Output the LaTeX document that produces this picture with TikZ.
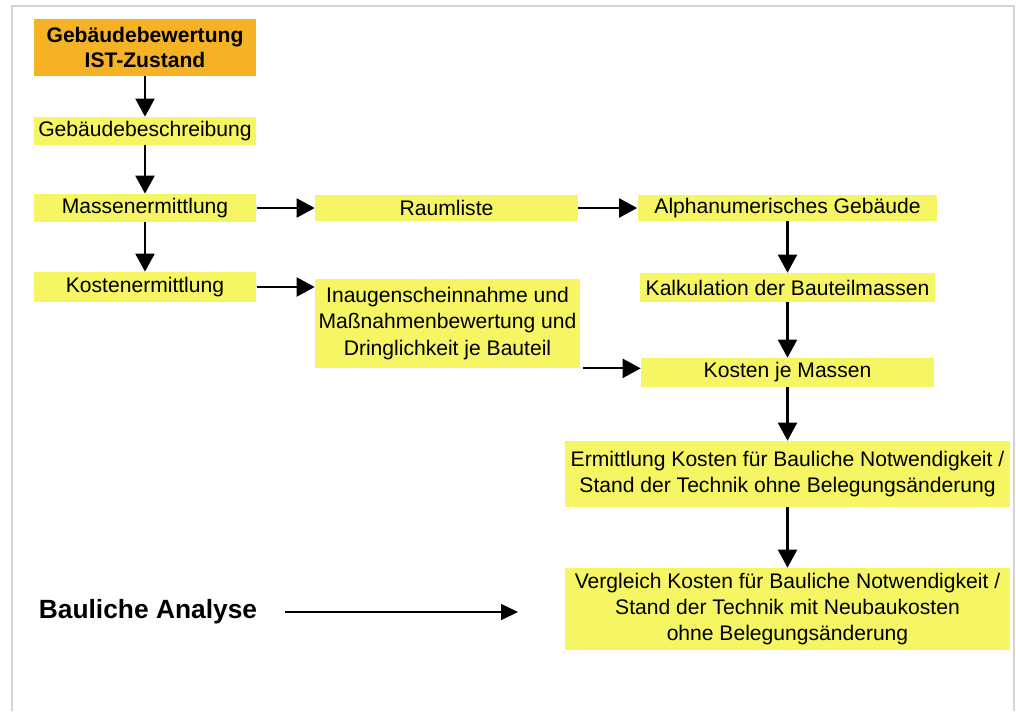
\documentclass[tikz,border=0pt]{standalone}
\usepackage{fontspec}
\setmainfont{Liberation Sans}
\usepackage{tikz}
\usetikzlibrary{arrows.meta}

\definecolor{gelb}{RGB}{246,246,100}
\definecolor{orange}{RGB}{245,178,36}
\definecolor{rahmen}{RGB}{212,212,212}

\begin{document}
\begin{tikzpicture}[x=0.02cm, y=-0.02cm,
    kasten/.style={fill=gelb, inner sep=0pt, align=center, font=\fontsize{12}{15}\selectfont},
    flow/.style={-{Triangle[length=0.36cm, width=0.38cm]}, line width=1.2pt},
    thinflow/.style={-{Triangle[length=0.34cm, width=0.32cm]}, line width=0.9pt}]
                \useasboundingbox (0,0) rectangle (1016,711);

                % Frame
                \draw[rahmen, line width=0.6pt] (12,711) -- (12,6) -- (1014,6) -- (1014,711);

                % Left column
                \node[kasten, fill=orange, minimum width=4.44cm, minimum height=1.14cm,
                      font=\fontsize{12}{14.5}\selectfont\bfseries] (ist) at (145,47.5) {Gebäudebewertung\\IST-Zustand};
                \node[kasten, minimum width=4.44cm, minimum height=0.56cm] (beschr) at (145,131) {Gebäudebeschreibung};
                \node[kasten, minimum width=4.46cm, minimum height=0.56cm] (massen) at (145,208) {Massenermittlung};
                \node[kasten, minimum width=4.46cm, minimum height=0.6cm] (kosten) at (145,287) {Kostenermittlung};

                % Middle column
                \node[kasten, minimum width=5.26cm, minimum height=0.52cm] (raum) at (446.5,208) {Raumliste};
                \node[kasten, minimum width=5.3cm, minimum height=1.78cm] (inaug) at (447.5,323.5)
                      {Inaugenscheinnahme und\\Maßnahmenbewertung und\\Dringlichkeit je Bauteil};

                % Right column
                \node[kasten, minimum width=6.0cm, minimum height=0.52cm] (alpha) at (787.5,208) {Alphanumerisches Gebäude};
                \node[kasten, minimum width=5.9cm, minimum height=0.58cm] (kalk) at (787.5,287.5) {Kalkulation der Bauteilmassen};
                \node[kasten, minimum width=5.86cm, minimum height=0.58cm] (kmassen) at (787.5,372.5) {Kosten je Massen};
                \node[kasten, minimum width=8.92cm, minimum height=1.32cm] (ermittl) at (787.5,474)
                      {Ermittlung Kosten für Bauliche Notwendigkeit /\\Stand der Technik ohne Belegungsänderung};
                \node[kasten, minimum width=8.92cm, minimum height=1.64cm] (vergl) at (787.5,609)
                      {Vergleich Kosten für Bauliche Notwendigkeit /\\Stand der Technik mit Neubaukosten\\ohne Belegungsänderung};

                % Label
                \node[font=\fontsize{15}{18}\selectfont\bfseries, inner sep=0pt] (analyse) at (148,612) {Bauliche Analyse};
                \coordinate (analyseziel) at (518,612);

                % Arrows
                \draw[flow] (ist) -- (beschr);
                \draw[flow] (beschr) -- (massen);
                \draw[flow] (massen) -- (kosten);
                \draw[flow] (massen) -- (raum);
                \draw[flow] (raum) -- (alpha);
                \draw[flow] (kosten.east) -- (kosten.east -| inaug.west);
                \draw[flow] (alpha) -- (kalk);
                \draw[flow] (kalk) -- (kmassen);
                \draw[flow] ([xshift=0.06cm]inaug.south east) -- (inaug.south east -| kmassen.west);
                \draw[flow] (kmassen) -- (ermittl);
                \draw[flow] (ermittl) -- (vergl);
                \draw[thinflow] ([xshift=0.56cm]analyse.east) -- (analyseziel);
\end{tikzpicture}
\end{document}
